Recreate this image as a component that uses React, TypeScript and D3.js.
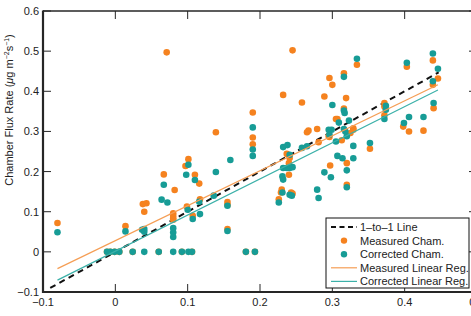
import React from "react";
import * as d3 from "d3";

const xTicks = [-0.1, 0, 0.1, 0.2, 0.3, 0.4, 0.5];
const yTicks = [-0.1, 0, 0.1, 0.2, 0.3, 0.4, 0.5, 0.6];
const xTickLabels = ["\u22120.1", "0", "0.1", "0.2", "0.3", "0.4", "0.5"];
const yTickLabels = ["\u22120.1", "0", "0.1", "0.2", "0.3", "0.4", "0.5", "0.6"];

const measuredX = [-0.08, 0.014, 0.038, 0.043, 0.04, 0.067, 0.071, 0.082, 0.08, 0.08, 0.08, 0.08, 0.101, 0.097, 0.099, 0.11, 0.116, 0.117, 0.107, 0.139, 0.155, 0.155, 0.155, 0.19, 0.19, 0.19, 0.232, 0.245, 0.258, 0.289, 0.296, 0.3, 0.265, 0.267, 0.279, 0.281, 0.295, 0.237, 0.24, 0.241, 0.24, 0.23, 0.229, 0.243, 0.245, 0.226, 0.297, 0.319, 0.316, 0.334, 0.316, 0.305, 0.307, 0.329, 0.329, 0.313, 0.325, 0.352, 0.32, 0.32, 0.372, 0.372, 0.372, 0.398, 0.406, 0.426, 0.44, 0.439, 0.446, 0.439, 0.403, 0.296,
  -0.0115, -0.007, -0.001, 0.0055, 0.024, 0.06, 0.092, 0.106, 0.1805, 0.193];
const measuredY = [0.072, 0.064, 0.119, 0.121, 0.1, 0.193, 0.497, 0.154, 0.096, 0.09, 0.084, 0.08, 0.231, 0.214, 0.113, 0.192, 0.17, 0.131, 0.09, 0.298, 0.124, 0.117, 0.057, 0.347, 0.285, 0.268, 0.391, 0.502, 0.372, 0.387, 0.433, 0.416, 0.298, 0.302, 0.306, 0.273, 0.288, 0.244, 0.221, 0.234, 0.192, 0.155, 0.148, 0.148, 0.145, 0.131, 0.215, 0.383, 0.445, 0.466, 0.357, 0.331, 0.331, 0.308, 0.304, 0.278, 0.296, 0.257, 0.221, 0.167, 0.371, 0.362, 0.34, 0.312, 0.3, 0.302, 0.358, 0.416, 0.432, 0.477, 0.461, 0.286,
  0, 0, 0, 0, 0, 0, 0, 0, 0, 0];

const correctedX = [-0.08, 0.014, 0.037, 0.04, 0.04, 0.067, 0.064, 0.072, 0.08, 0.08, 0.08, 0.101, 0.098, 0.1, 0.11, 0.116, 0.117, 0.107, 0.136, 0.139, 0.159, 0.155, 0.155, 0.19, 0.19, 0.19, 0.232, 0.238, 0.258, 0.265, 0.295, 0.241, 0.232, 0.237, 0.241, 0.245, 0.231, 0.232, 0.231, 0.241, 0.244, 0.226, 0.279, 0.281, 0.289, 0.334, 0.316, 0.3, 0.316, 0.317, 0.309, 0.323, 0.318, 0.299, 0.296, 0.305, 0.32, 0.316, 0.329, 0.352, 0.307, 0.314, 0.329, 0.32, 0.298, 0.32, 0.374, 0.374, 0.372, 0.399, 0.406, 0.426, 0.44, 0.439, 0.446, 0.439, 0.403,
  -0.0115, -0.007, -0.001, 0.0055, 0.024, 0.04, 0.06, 0.08, 0.092, 0.101, 0.106, 0.1805, 0.193];
const correctedY = [0.049, 0.051, 0.055, 0.057, 0.05, 0.167, 0.13, 0.123, 0.059, 0.048, 0.037, 0.217, 0.192, 0.105, 0.179, 0.125, 0.094, 0.082, 0.14, 0.199, 0.229, 0.115, 0.052, 0.31, 0.255, 0.239, 0.261, 0.266, 0.259, 0.263, 0.304, 0.242, 0.209, 0.209, 0.209, 0.211, 0.188, 0.18, 0.148, 0.142, 0.14, 0.123, 0.155, 0.134, 0.198, 0.481, 0.436, 0.366, 0.352, 0.346, 0.322, 0.327, 0.3, 0.304, 0.292, 0.275, 0.288, 0.306, 0.264, 0.271, 0.239, 0.233, 0.233, 0.203, 0.186, 0.161, 0.364, 0.354, 0.331, 0.321, 0.336, 0.336, 0.371, 0.425, 0.456, 0.494, 0.471,
  0, 0, 0, 0, 0, 0, 0, 0, 0, 0, 0, 0, 0];

// 1-to-1 line and linear regressions (slope, intercept) over a data range
const oneToOneRange = [-0.09, 0.447];
const regRange = [-0.08, 0.446];
const measuredReg = [0.871, 0.028];
const correctedReg = [0.9, 0.0016];

const legendLabels = ["1\u2013to\u20131 Line", "Measured Cham.", "Corrected Cham.", "Measured Linear Reg.", "Corrected Linear Reg."];

const ORANGE = "#F5821F";
const TEAL = "#179C96";
const ORANGE_LINE = "#F59E55";
const TEAL_LINE = "#3CB1A9";
const AXIS = "#262626";
const FONT = "Liberation Sans, Arial, Helvetica, sans-serif";

export default function App() {
  const W = 471, H = 316;
  const left = 43, right = 477, top = 11, bottom = 292;
  const x = d3.scaleLinear().domain([-0.1, 0.5]).range([left, right]);
  const y = d3.scaleLinear().domain([-0.1, 0.6]).range([bottom, top]);
  const line = d3.line<[number, number]>().x(d => x(d[0])).y(d => y(d[1]));

  const regPts = (r: number[]): [number, number][] => regRange.map(v => [v, r[0] * v + r[1]] as [number, number]);

  const lx = 326, ly = 218, lw = 143, lh = 70;
  const rowY = (i: number) => ly + 9 + i * 13.6;

  return (
    <svg width={W} height={H} style={{ position: "absolute", left: 0, top: 0, display: "block" }} fontFamily={FONT}>
      <rect x={0} y={0} width={W} height={H} fill="white" />
      {/* 1:1 line */}
      <path d={line(oneToOneRange.map(v => [v, v] as [number, number])) || ""} stroke="#111" strokeWidth={2} strokeDasharray="6,4.5" fill="none" />
      {/* measured points */}
      {measuredX.map((v, i) => (
        <circle key={"m" + i} cx={x(v)} cy={y(measuredY[i])} r={3.3} fill={ORANGE} />
      ))}
      {/* corrected points */}
      {correctedX.map((v, i) => (
        <circle key={"c" + i} cx={x(v)} cy={y(correctedY[i])} r={3.3} fill={TEAL} />
      ))}
      {/* regression lines */}
      <path d={line(regPts(measuredReg)) || ""} stroke={ORANGE_LINE} strokeWidth={1.2} fill="none" />
      <path d={line(regPts(correctedReg)) || ""} stroke={TEAL_LINE} strokeWidth={1.2} fill="none" />

      {/* axes box */}
      <line x1={left} x2={right} y1={top} y2={top} stroke={AXIS} strokeWidth={1.5} />
      <line x1={right} x2={right} y1={top} y2={bottom} stroke={AXIS} strokeWidth={1.5} />
      <line x1={left} x2={left} y1={top - 0.5} y2={bottom + 1} stroke={AXIS} strokeWidth={2.2} />
      <line x1={left - 1} x2={right} y1={bottom} y2={bottom} stroke={AXIS} strokeWidth={2.2} />
      {/* ticks */}
      {xTicks.map((t, i) => (
        <g key={"xt" + i}>
          <line x1={x(t)} x2={x(t)} y1={bottom} y2={bottom - 8} stroke={AXIS} strokeWidth={1} />
          <line x1={x(t)} x2={x(t)} y1={top} y2={top + 8} stroke={AXIS} strokeWidth={1} />
          <text x={x(t)} y={bottom + 14} fontSize={11} textAnchor="middle" fill="#222">{xTickLabels[i]}</text>
        </g>
      ))}
      {yTicks.map((t, i) => (
        <g key={"yt" + i}>
          <line x1={left} x2={left + 8} y1={y(t)} y2={y(t)} stroke={AXIS} strokeWidth={1} />
          <line x1={right} x2={right - 8} y1={y(t)} y2={y(t)} stroke={AXIS} strokeWidth={1} />
          <text x={left - 4} y={y(t) + 4} fontSize={11} textAnchor="end" fill="#222">{yTickLabels[i]}</text>
        </g>
      ))}
      {/* y label */}
      <text transform="translate(13,110) rotate(-90)" fontSize={11} textAnchor="middle" fill="#222">
        Chamber Flux Rate (<tspan fontStyle="italic">μ</tspan>g m<tspan fontSize={7} dy={-4}>−2</tspan><tspan dy={4}>s</tspan><tspan fontSize={7} dy={-4}>−1</tspan><tspan dy={4}>)</tspan>
      </text>

      {/* legend */}
      <rect x={lx} y={ly} width={lw} height={lh} fill="white" stroke="#111" strokeWidth={1} />
      <line x1={lx + 5} x2={lx + 31} y1={rowY(0)} y2={rowY(0)} stroke="#111" strokeWidth={2} strokeDasharray="5,3.5" />
      <circle cx={lx + 18} cy={rowY(1)} r={3.2} fill={ORANGE} />
      <circle cx={lx + 18} cy={rowY(2)} r={3.2} fill={TEAL} />
      <line x1={lx + 5} x2={lx + 31} y1={rowY(3)} y2={rowY(3)} stroke={ORANGE_LINE} strokeWidth={1.2} />
      <line x1={lx + 5} x2={lx + 31} y1={rowY(4)} y2={rowY(4)} stroke={TEAL_LINE} strokeWidth={1.2} />
      {legendLabels.map((s, i) => (
        <text key={"lg" + i} x={lx + 34} y={rowY(i) + 4} fontSize={11} fill="#222">{s}</text>
      ))}
    </svg>
  );
}
